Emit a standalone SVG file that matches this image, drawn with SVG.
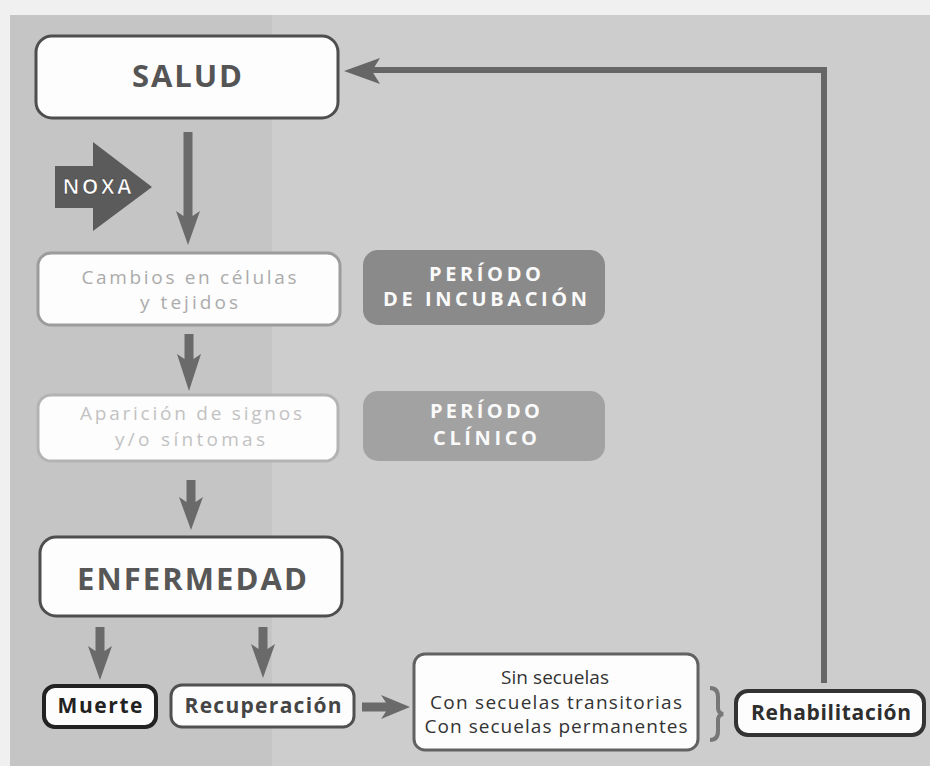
<svg xmlns="http://www.w3.org/2000/svg" width="930" height="766" viewBox="0 0 930 766">
<style>
.t{font-family:"Open Sans",Lato,"Liberation Sans",sans-serif;text-anchor:middle}
.b{font-weight:bold}
.arr{fill:#6a6a6a}
.box{fill:#fdfdfd}
</style>
<rect x="0" y="0" width="930" height="766" fill="#f0f0f0"/>
<rect x="10" y="15" width="920" height="751" fill="#cdcdcd"/>
<rect x="10" y="15" width="262" height="751" fill="#c5c5c5"/>

<g id="connectors">
  <path class="arr" d="M183.5,132 L192.5,132 L192.5,216 L200,211 L188,245 L176,211 L183.5,216 Z"/>
  <path class="arr" d="M184.5,334 L193.5,334 L193.5,359 L201,354 L189,391 L177,354 L184.5,359 Z"/>
  <path class="arr" d="M186.5,480 L195.5,480 L195.5,502 L203,497 L191,530 L179,497 L186.5,502 Z"/>
  <path class="arr" d="M95.5,627 L104.5,627 L104.5,651 L112,646 L100,680 L88,646 L95.5,651 Z"/>
  <path class="arr" d="M258.5,627 L267.5,627 L267.5,649 L275,644 L263,678 L251,644 L258.5,649 Z"/>
  <path class="arr" d="M362,702.5 L362,711.5 L386,711.5 L381,719 L410,707 L381,695 L386,702.5 Z"/>
  <path d="M824,683 L824,70 L370,70" fill="none" stroke="#666" stroke-width="6"/>
  <path d="M344,71 L380,58 L372,71 L380,84 Z" fill="#666"/>
  <path d="M710,688 Q718,688 718,697 L718,708 Q718,713 723,714 Q718,715 718,720 L718,731 Q718,740 710,740" fill="none" stroke="#777" stroke-width="4"/>
</g>

<g id="salud">
  <rect class="box" x="36" y="36" width="302" height="82" rx="16" stroke="#4e4e4e" stroke-width="3"/>
  <text class="t b" x="187" y="87" font-size="31" fill="#555" textLength="110" lengthAdjust="spacing">SALUD</text>
</g>

<g id="noxa">
  <path d="M55,166 L93,166 L93,142 L152,187 L93,231 L93,208 L55,208 Z" fill="#5b5b5b"/>
  <text class="t b" x="97" y="194" font-size="21" fill="#fff" stroke="#333" stroke-width="0.6" textLength="69" lengthAdjust="spacing">NOXA</text>
</g>

<g id="cambios">
  <rect class="box" x="38" y="253" width="302" height="72" rx="13" stroke="#9c9c9c" stroke-width="3"/>
  <text class="t" x="189" y="284" font-size="19" fill="#ababab" textLength="215" lengthAdjust="spacing">Cambios en células</text>
  <text class="t" x="189" y="309" font-size="19" fill="#ababab" textLength="98" lengthAdjust="spacing">y tejidos</text>
</g>

<g id="incubacion">
  <rect x="363" y="250" width="242" height="75" rx="15" fill="#8a8a8a"/>
  <text class="t b" x="485" y="281" font-size="20" fill="#fafafa" textLength="112" lengthAdjust="spacing">PERÍODO</text>
  <text class="t b" x="485" y="306" font-size="20" fill="#fafafa" textLength="204" lengthAdjust="spacing">DE INCUBACIÓN</text>
</g>

<g id="aparicion">
  <rect class="box" x="38" y="395" width="300" height="66" rx="13" stroke="#b3b3b3" stroke-width="3"/>
  <text class="t" x="191" y="420" font-size="19" fill="#c2c2c2" textLength="222" lengthAdjust="spacing">Aparición de signos</text>
  <text class="t" x="190" y="446" font-size="19" fill="#c2c2c2" textLength="150" lengthAdjust="spacing">y/o síntomas</text>
</g>

<g id="clinico">
  <rect x="363" y="391" width="242" height="70" rx="15" fill="#a2a2a2"/>
  <text class="t b" x="485" y="418" font-size="20" fill="#fafafa" textLength="110" lengthAdjust="spacing">PERÍODO</text>
  <text class="t b" x="485" y="445" font-size="20" fill="#fafafa" textLength="104" lengthAdjust="spacing">CLÍNICO</text>
</g>

<g id="enfermedad">
  <rect class="box" x="40" y="537" width="302" height="79" rx="16" stroke="#4e4e4e" stroke-width="3"/>
  <text class="t b" x="192" y="590" font-size="31" fill="#575757" textLength="230" lengthAdjust="spacing">ENFERMEDAD</text>
</g>

<g id="muerte">
  <rect class="box" x="44" y="686" width="112" height="41" rx="11" stroke="#222" stroke-width="4"/>
  <text class="t b" x="100" y="713" font-size="21" fill="#222" textLength="85" lengthAdjust="spacing">Muerte</text>
</g>

<g id="recuperacion">
  <rect class="box" x="171" y="685" width="183" height="42" rx="11" stroke="#505050" stroke-width="3"/>
  <text class="t b" x="263" y="713" font-size="21" fill="#454545" textLength="157" lengthAdjust="spacing">Recuperación</text>
</g>

<g id="secuelas">
  <rect class="box" x="414" y="654" width="284" height="96" rx="11" stroke="#626262" stroke-width="3"/>
  <text class="t" x="555" y="684" font-size="19" fill="#333" textLength="108" lengthAdjust="spacing">Sin secuelas</text>
  <text class="t" x="556" y="709" font-size="19" fill="#333" textLength="252" lengthAdjust="spacing">Con secuelas transitorias</text>
  <text class="t" x="556" y="733" font-size="19" fill="#333" textLength="263" lengthAdjust="spacing">Con secuelas permanentes</text>
</g>

<g id="rehabilitacion">
  <rect class="box" x="736" y="691" width="188" height="44" rx="12" stroke="#333" stroke-width="4"/>
  <text class="t b" x="831" y="720" font-size="21" fill="#2e2e2e" textLength="160" lengthAdjust="spacing">Rehabilitación</text>
</g>
</svg>
